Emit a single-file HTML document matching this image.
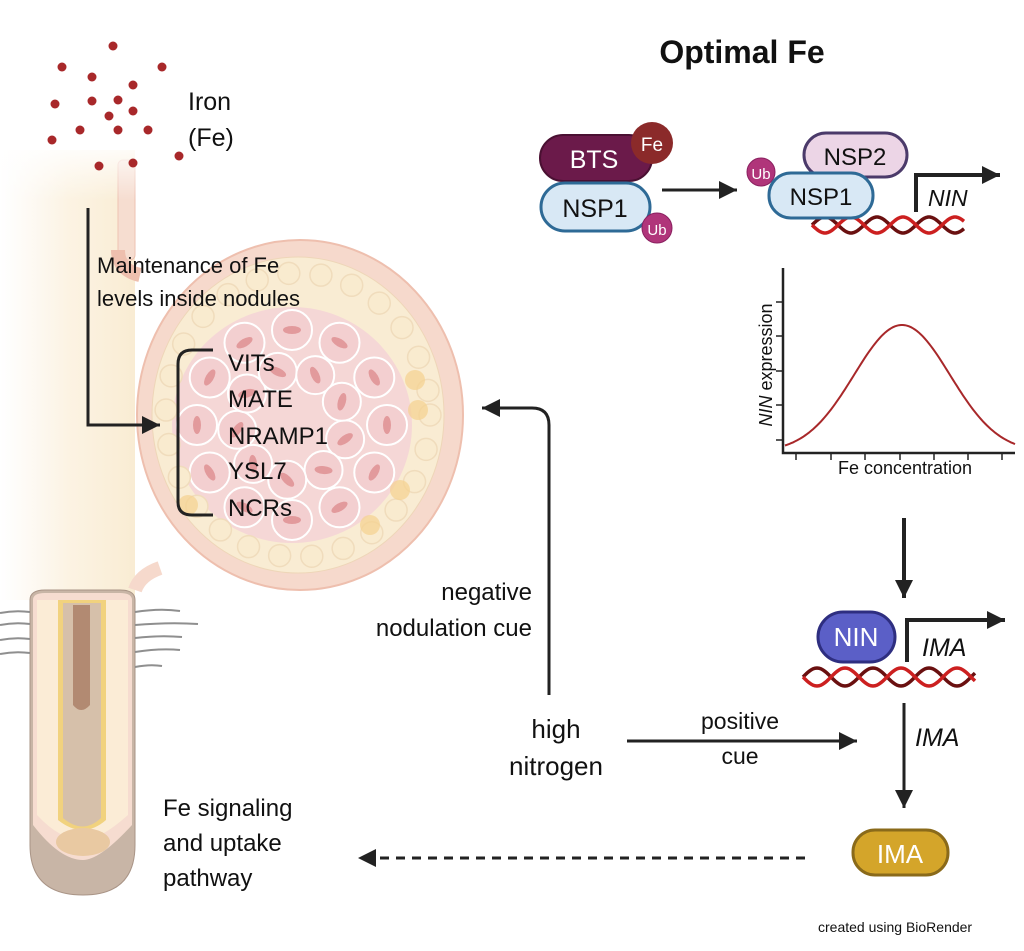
<!DOCTYPE html>
<html><head><meta charset="utf-8"><style>
html,body{margin:0;padding:0;background:#fff}
svg{display:block}
text{font-family:"Liberation Sans",sans-serif;fill:#111}
</style></head><body>
<svg id="s" width="1024" height="951" viewBox="0 0 1024 951" xmlns="http://www.w3.org/2000/svg">
<defs>
<linearGradient id="stemg" x1="0" x2="1" y1="0" y2="0">
<stop offset="0" stop-color="#fbf1e2" stop-opacity="0"/>
<stop offset="0.5" stop-color="#fbf0dc" stop-opacity="0.8"/>
<stop offset="1" stop-color="#f9ecd3"/>
</linearGradient>
<linearGradient id="fadeTop" x1="0" x2="0" y1="0" y2="1">
<stop offset="0" stop-color="#fff" stop-opacity="1"/>
<stop offset="1" stop-color="#fff" stop-opacity="0"/>
</linearGradient>
<marker id="ah" markerWidth="18" markerHeight="18" refX="10" refY="5" orient="auto" markerUnits="userSpaceOnUse" viewBox="0 0 10 10"><path d="M0,0 L10,5 L0,10 z" fill="#222"/></marker>
</defs>

<!-- stem -->
<rect x="0" y="150" width="135" height="450" fill="url(#stemg)"/>
<rect x="118" y="160" width="17" height="100" rx="5" fill="#f6ddd0" stroke="#eec2b2"/>
<rect x="0" y="140" width="140" height="60" fill="url(#fadeTop)"/>

<!-- nodule -->
<g id="nod">
<ellipse cx="300" cy="415" rx="163" ry="175" fill="#f6d9cc" stroke="#eebfae" stroke-width="2"/>
<ellipse cx="298" cy="415" rx="146" ry="158" fill="#f9ecd3" stroke="#eed6b8"/>
<ellipse cx="292" cy="425" rx="120" ry="118" fill="#f5d7d6"/>
</g>
<g id="cells"></g>
<path d="M118,250 Q118,270 140,275" fill="none" stroke="#eebfae" stroke-width="14"/>
<path d="M135,590 Q140,575 160,568" fill="none" stroke="#f6d9cc" stroke-width="14"/>

<!-- iron dots -->
<g fill="#a8282a" id="dots"></g>
<text x="188" y="110" font-size="25">Iron</text>
<text x="188" y="146" font-size="25">(Fe)</text>

<!-- maintenance arrow -->
<path d="M88,208 L88,425 L160,425" fill="none" stroke="#222" stroke-width="3" marker-end="url(#ah)"/>
<text x="97" y="273" font-size="22">Maintenance of Fe</text>
<text x="97" y="306" font-size="22">levels inside nodules</text>
<path d="M213,350 L192,350 Q178,350 178,364 L178,502 Q178,515 192,515 L213,515" fill="none" stroke="#222" stroke-width="3"/>
<g font-size="24"><text x="228" y="371">VITs</text><text x="228" y="407">MATE</text><text x="228" y="444">NRAMP1</text><text x="228" y="479">YSL7</text><text x="228" y="516">NCRs</text></g>

<!-- root -->
<g>
<path d="M30,600 Q30,590 45,590 L120,590 Q135,590 135,600 L135,845 Q135,895 83,895 Q30,895 30,845 Z" fill="#c8b5a6" stroke="#a99486"/>
<path d="M33,600 Q33,593 45,593 L120,593 Q132,593 132,600 L132,825 Q100,860 83,860 Q60,860 33,825 Z" fill="#f6dcd0"/>
<path d="M37,600 L128,600 L128,815 Q100,840 83,840 Q60,840 37,815 Z" fill="#fbecd6"/>
<path d="M58,600 L106,600 L106,820 Q83,840 58,820 Z" fill="#f1d27e"/>
<path d="M63,603 L101,603 L101,818 Q83,835 63,818 Z" fill="#d6c0aa"/>
<path d="M73,605 L90,605 L90,705 Q81,715 73,705 Z" fill="#b28a72"/>
<ellipse cx="83" cy="842" rx="27" ry="14" fill="#e9c9a2"/>
<g stroke="#8f8f8f" stroke-width="2" fill="none">
<path d="M0,613 Q15,610 30,612"/><path d="M0,625 Q15,622 30,624"/><path d="M0,640 Q15,637 30,639"/><path d="M0,654 Q15,651 30,653"/>
<path d="M135,612 Q160,608 180,611"/><path d="M135,625 Q170,622 198,624"/><path d="M135,638 Q160,635 182,637"/><path d="M135,652 Q160,648 180,650"/><path d="M135,667 Q150,664 162,666"/>
</g>
</g>
<text x="163" y="816" font-size="24">Fe signaling</text>
<text x="163" y="851" font-size="24">and uptake</text>
<text x="163" y="886" font-size="24">pathway</text>

<!-- negative cue -->
<text x="532" y="600" font-size="24" text-anchor="end">negative</text>
<text x="532" y="636" font-size="24" text-anchor="end">nodulation cue</text>
<path d="M549,695 L549,425 Q549,408 532,408 L482,408" fill="none" stroke="#222" stroke-width="3" marker-end="url(#ah)"/>
<text x="556" y="738" font-size="26" text-anchor="middle">high</text>
<text x="556" y="775" font-size="26" text-anchor="middle">nitrogen</text>
<path d="M627,741 L857,741" stroke="#222" stroke-width="3" marker-end="url(#ah)"/>
<text x="740" y="729" font-size="23" text-anchor="middle">positive</text>
<text x="740" y="764" font-size="23" text-anchor="middle">cue</text>

<!-- title -->
<text x="742" y="63" font-size="32" font-weight="bold" text-anchor="middle">Optimal Fe</text>

<!-- BTS complex -->
<rect x="540" y="135" width="112" height="46" rx="23" fill="#6b1a4a" stroke="#4a1032" stroke-width="2"/>
<text x="594" y="168" font-size="25" text-anchor="middle" style="fill:#fff">BTS</text>
<circle cx="652" cy="143" r="21" fill="#8b2a2a"/>
<text x="652" y="151" font-size="19" text-anchor="middle" style="fill:#fff">Fe</text>
<rect x="541" y="183" width="109" height="48" rx="24" fill="#d8e8f5" stroke="#2e6a96" stroke-width="3"/>
<text x="595" y="217" font-size="25" text-anchor="middle">NSP1</text>
<circle cx="657" cy="228" r="15" fill="#b0357a" stroke="#8a2060"/>
<text x="657" y="235" font-size="15" text-anchor="middle" style="fill:#fff">Ub</text>
<path d="M662,190 L737,190" stroke="#222" stroke-width="3" marker-end="url(#ah)"/>

<!-- helix 1 -->
<g id="hx1"></g>
<circle cx="761" cy="172" r="14" fill="#b0357a" stroke="#8a2060"/>
<text x="761" y="179" font-size="15" text-anchor="middle" style="fill:#fff">Ub</text>
<rect x="804" y="133" width="103" height="44" rx="22" fill="#ecd5e6" stroke="#4b3a6a" stroke-width="3"/>
<text x="855" y="165" font-size="24" text-anchor="middle">NSP2</text>
<rect x="769" y="173" width="104" height="45" rx="22" fill="#d8e8f5" stroke="#2e6a96" stroke-width="3"/>
<text x="821" y="205" font-size="24" text-anchor="middle">NSP1</text>
<path d="M916,212 L916,175 L1000,175" fill="none" stroke="#222" stroke-width="4" marker-end="url(#ah)"/>
<text x="928" y="206" font-size="23" font-style="italic">NIN</text>

<!-- graph -->
<path d="M783,268 L783,453 L1015,453" fill="none" stroke="#222" stroke-width="2.5"/>
<g stroke="#222" stroke-width="1.5">
<path d="M776,302 L783,302 M776,336 L783,336 M776,371 L783,371 M776,405 L783,405 M776,440 L783,440"/>
<path d="M796,453 L796,460 M831,453 L831,460 M865,453 L865,460 M900,453 L900,460 M934,453 L934,460 M968,453 L968,460 M1002,453 L1002,460"/>
</g>
<path id="curve" fill="none" stroke="#a8282a" stroke-width="2"/>
<text x="905" y="474" font-size="18" text-anchor="middle">Fe concentration</text>
<text transform="translate(772,365) rotate(-90)" font-size="18" text-anchor="middle"><tspan font-style="italic">NIN</tspan> expression</text>

<path d="M904,518 L904,598" stroke="#222" stroke-width="4" marker-end="url(#ah)"/>

<!-- NIN -->
<g id="hx2"></g>
<rect x="818" y="612" width="77" height="50" rx="25" fill="#5b5fc7" stroke="#2e2e80" stroke-width="3"/>
<text x="856" y="646" font-size="26" text-anchor="middle" style="fill:#fff">NIN</text>
<path d="M907,662 L907,620 L1005,620" fill="none" stroke="#222" stroke-width="4" marker-end="url(#ah)"/>
<text x="922" y="656" font-size="25" font-style="italic">IMA</text>
<path d="M904,703 L904,808" stroke="#222" stroke-width="3" marker-end="url(#ah)"/>
<text x="915" y="746" font-size="25" font-style="italic">IMA</text>
<rect x="853" y="830" width="95" height="45" rx="22" fill="#d4a52a" stroke="#8a6a1a" stroke-width="3"/>
<text x="900" y="863" font-size="26" text-anchor="middle" style="fill:#fff">IMA</text>
<path d="M805,858 L376,858" stroke="#222" stroke-width="3" stroke-dasharray="9,7"/>
<path d="M358,858 L376,849 L376,867 Z" fill="#222"/>

<text x="818" y="932" font-size="14">created using BioRender</text>
</svg>
<script>
var NS="http://www.w3.org/2000/svg";
function el(p,t,a){var e=document.createElementNS(NS,t);for(var k in a)e.setAttribute(k,a[k]);p.appendChild(e);return e;}
var d=document.getElementById("dots");
[[113,46],[62,67],[162,67],[92,77],[133,85],[55,104],[92,101],[118,100],[133,111],[109,116],[80,130],[118,130],[148,130],[52,140],[179,156],[99,166],[133,163]].forEach(function(p){el(d,"circle",{cx:p[0],cy:p[1],r:4.5});});
var c=document.getElementById("cells");
for(var a=0;a<360;a+=30){var r=95,x=292+r*Math.cos(a*Math.PI/180),y=425+r*Math.sin(a*Math.PI/180);
 el(c,"circle",{cx:x,cy:y,r:20,fill:"#f3cfd0",stroke:"#fff","stroke-width":2});
 el(c,"ellipse",{cx:x,cy:y,rx:4,ry:9,fill:"#e29a9c",transform:"rotate("+a+" "+x+" "+y+")"});}
for(var a=15;a<360;a+=40){var r=55,x=292+r*Math.cos(a*Math.PI/180),y=425+r*Math.sin(a*Math.PI/180);
 el(c,"circle",{cx:x,cy:y,r:19,fill:"#f3cfd0",stroke:"#fff","stroke-width":2});
 el(c,"ellipse",{cx:x,cy:y,rx:4,ry:9,fill:"#e29a9c",transform:"rotate("+(a+40)+" "+x+" "+y+")"});}
for(var a=0;a<360;a+=14){var x=298+132*Math.cos(a*Math.PI/180),y=415+142*Math.sin(a*Math.PI/180);
 el(c,"circle",{cx:x,cy:y,r:11,fill:"#f9ebcf",stroke:"#f0dcbc","stroke-width":1.5});}
[[415,380],[418,410],[400,490],[370,525],[188,505]].forEach(function(p){el(c,"circle",{cx:p[0],cy:p[1],r:10,fill:"#f5d28e",opacity:0.7});});
function helix(id,x0,x1,yc,amp,per){var g=document.getElementById(id);var p1="",p2="";
 for(var x=x0;x<=x1;x+=2){var t=(x-x0)/per*2*Math.PI;p1+=(x==x0?"M":"L")+x+","+(yc+amp*Math.sin(t));p2+=(x==x0?"M":"L")+x+","+(yc-amp*Math.sin(t));}
 el(g,"path",{d:p2,stroke:"#6a1010","stroke-width":3.5,fill:"none"});el(g,"path",{d:p1,stroke:"#cc2020","stroke-width":3.5,fill:"none"});}
helix("hx1",812,965,225,8,52);
helix("hx2",803,975,677,9,56);
var s="";for(var x=785;x<=1015;x+=2){var y=452-127*Math.exp(-Math.pow((x-902)/48,2)/2);s+=(x==785?"M":"L")+x+","+y.toFixed(1);}
document.getElementById("curve").setAttribute("d",s);
</script>
</body></html>
